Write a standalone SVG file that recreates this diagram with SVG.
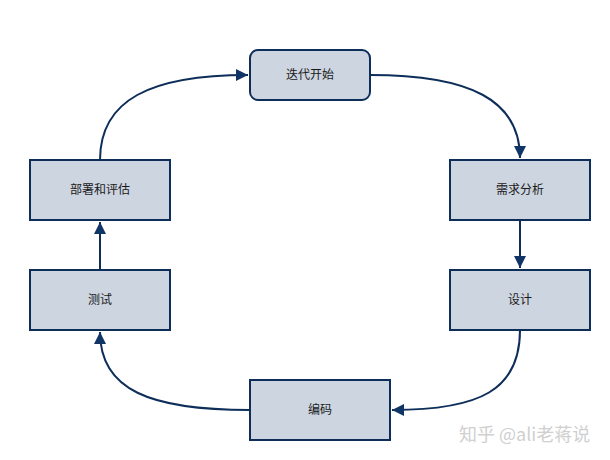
<svg xmlns="http://www.w3.org/2000/svg" width="610" height="460" viewBox="0 0 610 460">
<style>
.box{fill:#cdd5e1;stroke:#0e2e5a;stroke-width:2}
.lbl{font-family:"Liberation Sans","Noto Sans CJK SC",sans-serif;font-size:12px;fill:#1a1a1a;text-anchor:middle;dominant-baseline:central}
.edge{fill:none;stroke:#0e2e5a;stroke-width:2}
.wm{font-family:"Noto Sans CJK SC",sans-serif;font-size:18px;fill:#d0d0d0}
</style>
<defs>
<marker id="arr" viewBox="0 0 10 10" refX="10" refY="5" markerWidth="12" markerHeight="12" markerUnits="userSpaceOnUse" orient="auto">
<path d="M0,0 L10,5 L0,10 Z" fill="#0e3566"/>
</marker>
</defs>
<rect width="610" height="460" fill="#ffffff"/>
<g id="connectors">
<path class="edge" d="M370,75 C470,75 520,100 520,158" marker-end="url(#arr)"/>
<path class="edge" d="M520,220 L520,268" marker-end="url(#arr)"/>
<path class="edge" d="M520,330 C520,390 480,410 392,410" marker-end="url(#arr)"/>
<path class="edge" d="M250,410 C150,410 100,390 100,332" marker-end="url(#arr)"/>
<path class="edge" d="M100,270 L100,222" marker-end="url(#arr)"/>
<path class="edge" d="M100,160 C100,100 150,75 248,75" marker-end="url(#arr)"/>
</g>
<g id="n-start"><rect class="box" x="250" y="50" width="120" height="50" rx="8"/><text class="lbl" x="310" y="75">迭代开始</text></g>
<g id="n-req"><rect class="box" x="450" y="160" width="140" height="60"/><text class="lbl" x="520" y="190">需求分析</text></g>
<g id="n-design"><rect class="box" x="450" y="270" width="140" height="60"/><text class="lbl" x="520" y="300">设计</text></g>
<g id="n-code"><rect class="box" x="250" y="380" width="140" height="60"/><text class="lbl" x="320" y="410">编码</text></g>
<g id="n-test"><rect class="box" x="30" y="270" width="140" height="60"/><text class="lbl" x="100" y="300">测试</text></g>
<g id="n-deploy"><rect class="box" x="30" y="160" width="140" height="60"/><text class="lbl" x="100" y="190">部署和评估</text></g>
<text class="wm" x="459" y="441">知乎 @ali老蒋说</text>
</svg>
